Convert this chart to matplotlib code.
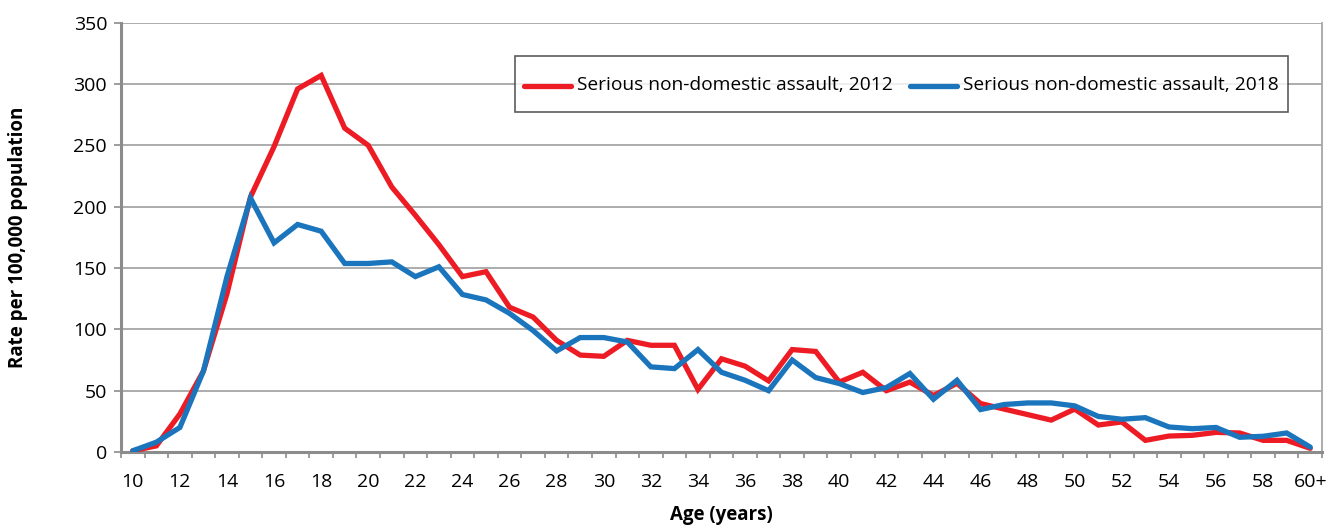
import matplotlib
matplotlib.use("Agg")
import matplotlib.pyplot as plt
import numpy as np

ages = [str(a) for a in range(10, 60)] + ["60+"]
rate_2012 = [1, 5, 31, 66, 129, 208, 249, 296, 307, 264, 250, 216, 193, 169, 143, 147, 118, 110,
             91, 79, 78, 91, 87, 87, 51, 76, 70, 58, 83.5, 82, 57, 65, 50, 57, 46, 56, 39.5, 35,
             30.5, 26, 35, 22, 24.5, 9.5, 13, 13.6, 16, 15.5, 9.5, 9.5, 3]
rate_2018 = [1, 8, 20, 66, 143, 207, 170.5, 185.5, 180, 153.7, 153.7, 155, 143, 151, 128.4, 124,
             113, 99, 82.4, 93.3, 93.3, 89.7, 69.4, 68, 83.5, 65, 58.5, 50, 75, 60.7, 55.8, 48.5,
             52.5, 64, 43, 58.5, 34.6, 38.7, 40, 40, 37.6, 29, 26.7, 28, 20.4, 19, 20, 12, 12.8,
             15.5, 4]
label_2012 = "Serious non-domestic assault, 2012"
label_2018 = "Serious non-domestic assault, 2018"
yticks = [0, 50, 100, 150, 200, 250, 300, 350]

plt.rcParams['font.family'] = ['Open Sans', 'DejaVu Sans']

fig = plt.figure(figsize=(13.32, 5.29), dpi=100)
ax_left, ax_right, ax_top, ax_bottom = 121, 1322, 22.7, 452
ax = fig.add_axes([ax_left/1332, 1 - ax_bottom/529, (ax_right-ax_left)/1332, (ax_bottom-ax_top)/529])

x = np.arange(len(ages))
ax.plot(x, rate_2012, color="#ed1c24", lw=3.8, label=label_2012, solid_joinstyle="miter",
        solid_capstyle="round", zorder=3)
ax.plot(x, rate_2018, color="#1b75bc", lw=3.8, label=label_2018, solid_joinstyle="miter",
        solid_capstyle="round", zorder=4)

ax.set_xlim(-0.5, len(ages) - 0.5)
ax.set_ylim(0, 350)
ax.set_yticks(yticks)
ax.set_yticklabels([str(v) for v in yticks], fontsize=14)
ax.set_xticks(x[::2])
ax.set_xticklabels(ages[::2], fontsize=14)
ax.set_xticks(np.arange(-0.5, len(ages)), minor=True)
ax.tick_params(axis='x', which='major', length=0, pad=15)
ax.tick_params(axis='x', which='minor', length=4, width=1.2, color="#8c8c8c", direction='out')
ax.tick_params(axis='y', length=5, width=1.2, color="#8c8c8c", pad=5)

ax.grid(axis='y', color="#a6a6a6", lw=1.3)
ax.set_axisbelow(True)
for s in ['left', 'bottom']:
    ax.spines[s].set_color("#8c8c8c")
    ax.spines[s].set_linewidth(2.2)
ax.spines['right'].set_color("#a6a6a6")
ax.spines['right'].set_linewidth(1.3)
ax.spines['top'].set_visible(False)

ax.set_xlabel("Age (years)", fontsize=13.5, fontweight='bold')
ax.xaxis.set_label_coords(0.5, (ax_bottom - 505) / (ax_bottom - ax_top))
ax.set_ylabel("Rate per 100,000 population", fontsize=13.5, fontweight='bold')
ax.yaxis.set_label_coords((28 - ax_left) / (ax_right - ax_left), 0.5)

leg = ax.legend(loc='upper right', bbox_to_anchor=(1288/1332, 1 - 55.7/529), bbox_transform=fig.transFigure,
                ncol=2, fontsize=13.8, frameon=True, fancybox=False, edgecolor="#333333",
                handlelength=2.45, handletextpad=0.3, columnspacing=0.9, borderpad=0.5,
                handleheight=2.6, borderaxespad=0)
leg.get_frame().set_linewidth(1.2)
for h in leg.get_lines():
    h.set_solid_capstyle("round")
    h.set_ydata(np.asarray(h.get_ydata(), dtype=float) - 6.0)

fig.savefig("out.png", dpi=100)
